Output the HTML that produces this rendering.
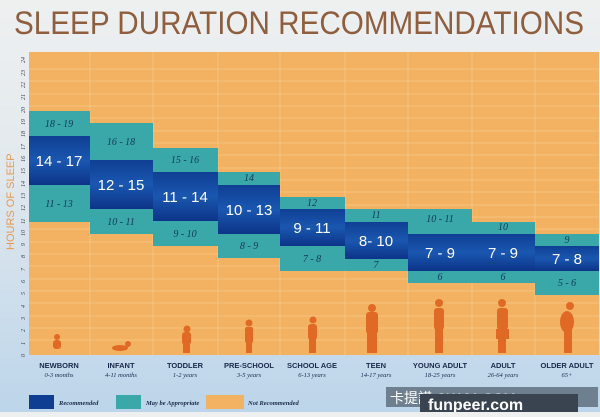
<!DOCTYPE html>
<html><head><meta charset="utf-8"><style>
html,body{margin:0;padding:0;}
body{width:600px;height:412px;overflow:hidden;background:linear-gradient(#eef0f0 0%,#e2e9ee 40%,#bcd5ea 100%);font-family:"Liberation Sans",sans-serif;}
</style></head><body>
<svg width="600" height="412" viewBox="0 0 600 412" xmlns="http://www.w3.org/2000/svg" font-family="Liberation Sans, sans-serif">
<text x="14" y="34" font-size="32" fill="#8e5e3e" textLength="570" lengthAdjust="spacingAndGlyphs">SLEEP DURATION RECOMMENDATIONS</text>
<rect x="29" y="52" width="570" height="303" fill="#f2b262"/>
<g stroke="#f7c98a" stroke-width="0.7">
<line x1="29" x2="599" y1="69" y2="69"/><line x1="29" x2="599" y1="81" y2="81"/><line x1="29" x2="599" y1="94" y2="94"/><line x1="29" x2="599" y1="106" y2="106"/><line x1="29" x2="599" y1="118" y2="118"/><line x1="29" x2="599" y1="131" y2="131"/><line x1="29" x2="599" y1="143" y2="143"/><line x1="29" x2="599" y1="155" y2="155"/><line x1="29" x2="599" y1="168" y2="168"/><line x1="29" x2="599" y1="180" y2="180"/><line x1="29" x2="599" y1="192" y2="192"/><line x1="29" x2="599" y1="205" y2="205"/><line x1="29" x2="599" y1="217" y2="217"/><line x1="29" x2="599" y1="229" y2="229"/><line x1="29" x2="599" y1="242" y2="242"/><line x1="29" x2="599" y1="254" y2="254"/><line x1="29" x2="599" y1="266" y2="266"/><line x1="29" x2="599" y1="279" y2="279"/><line x1="29" x2="599" y1="291" y2="291"/><line x1="29" x2="599" y1="303" y2="303"/><line x1="29" x2="599" y1="316" y2="316"/><line x1="29" x2="599" y1="328" y2="328"/><line x1="29" x2="599" y1="340" y2="340"/>
<line y1="52" y2="355" x1="90" x2="90"/><line y1="52" y2="355" x1="153" x2="153"/><line y1="52" y2="355" x1="218" x2="218"/><line y1="52" y2="355" x1="280" x2="280"/><line y1="52" y2="355" x1="345" x2="345"/><line y1="52" y2="355" x1="408" x2="408"/><line y1="52" y2="355" x1="472" x2="472"/><line y1="52" y2="355" x1="535" x2="535"/>
</g>
<defs><linearGradient id="db" x1="0" y1="0" x2="0" y2="1"><stop offset="0" stop-color="#0f3f94"/><stop offset="0.5" stop-color="#1a57b0"/><stop offset="1" stop-color="#0c3488"/></linearGradient></defs>
<g fill="#3aa7a9">
<rect x="29" y="111" width="61" height="111"/>
<rect x="90" y="123" width="63" height="111"/>
<rect x="153" y="148" width="65" height="98"/>
<rect x="218" y="172" width="62" height="86"/>
<rect x="280" y="197" width="65" height="74"/>
<rect x="345" y="209" width="63" height="62"/>
<rect x="408" y="209" width="64" height="74"/>
<rect x="472" y="222" width="63" height="61"/>
<rect x="535" y="234" width="64" height="61"/>
</g>
<g fill="url(#db)">
<rect x="29" y="136" width="61" height="49"/>
<rect x="90" y="160" width="63" height="49"/>
<rect x="153" y="172" width="65" height="49"/>
<rect x="218" y="185" width="62" height="49"/>
<rect x="280" y="209" width="65" height="37"/>
<rect x="345" y="222" width="63" height="37"/>
<rect x="408" y="234" width="64" height="37"/>
<rect x="472" y="234" width="63" height="37"/>
<rect x="535" y="246" width="64" height="25"/>
</g>
<g fill="#fff" font-size="15" text-anchor="middle">
<text x="59" y="166">14 - 17</text><text x="121" y="190">12 - 15</text><text x="185" y="202">11 - 14</text><text x="249" y="215">10 - 13</text><text x="312" y="233">9 - 11</text><text x="376" y="246">8- 10</text><text x="440" y="258">7 - 9</text><text x="503" y="258">7 - 9</text><text x="567" y="264">7 - 8</text>
</g>
<g fill="#113a5a" font-size="10" font-style="italic" font-family="Liberation Serif, serif" text-anchor="middle">
<text x="59" y="127">18 - 19</text><text x="59" y="207">11 - 13</text>
<text x="121" y="145">16 - 18</text><text x="121" y="225">10 - 11</text>
<text x="185" y="163">15 - 16</text><text x="185" y="237">9 - 10</text>
<text x="249" y="181">14</text><text x="249" y="249">8 - 9</text>
<text x="312" y="206">12</text><text x="312" y="262">7 - 8</text>
<text x="376" y="218">11</text><text x="376" y="268">7</text>
<text x="440" y="222">10 - 11</text><text x="440" y="280">6</text>
<text x="503" y="230">10</text><text x="503" y="280">6</text>
<text x="567" y="243">9</text><text x="567" y="286">5 - 6</text>
</g>
<g fill="#3a3a4a" font-size="6" font-style="italic" font-family="Liberation Serif, serif">
<text transform="translate(25,357) rotate(-90)">0</text><text transform="translate(25,345) rotate(-90)">1</text><text transform="translate(25,332) rotate(-90)">2</text><text transform="translate(25,320) rotate(-90)">3</text><text transform="translate(25,308) rotate(-90)">4</text><text transform="translate(25,295) rotate(-90)">5</text><text transform="translate(25,283) rotate(-90)">6</text><text transform="translate(25,271) rotate(-90)">7</text><text transform="translate(25,258) rotate(-90)">8</text><text transform="translate(25,246) rotate(-90)">9</text><text transform="translate(25,236) rotate(-90)">10</text><text transform="translate(25,224) rotate(-90)">11</text><text transform="translate(25,211) rotate(-90)">12</text><text transform="translate(25,199) rotate(-90)">13</text><text transform="translate(25,187) rotate(-90)">14</text><text transform="translate(25,174) rotate(-90)">15</text><text transform="translate(25,162) rotate(-90)">16</text><text transform="translate(25,150) rotate(-90)">17</text><text transform="translate(25,137) rotate(-90)">18</text><text transform="translate(25,125) rotate(-90)">19</text><text transform="translate(25,113) rotate(-90)">20</text><text transform="translate(25,100) rotate(-90)">21</text><text transform="translate(25,88) rotate(-90)">22</text><text transform="translate(25,76) rotate(-90)">23</text><text transform="translate(25,63) rotate(-90)">24</text>
</g>
<text transform="translate(14,250) rotate(-90)" font-size="11" fill="#e69a50">HOURS OF SLEEP</text>
<g fill="#e06a25">
<circle cx="57" cy="337" r="3"/><rect x="53" y="340" width="8" height="9" rx="3"/>
<circle cx="128" cy="344" r="3"/><ellipse cx="120" cy="348" rx="8" ry="3"/>
<circle cx="187" cy="329" r="3.5"/><rect x="182" y="332" width="9" height="13" rx="3"/><rect x="183" y="344" width="7" height="9"/>
<circle cx="249" cy="323" r="3.5"/><rect x="245" y="327" width="8" height="16" rx="2"/><rect x="246" y="342" width="6" height="11"/>
<circle cx="313" cy="320" r="3.5"/><rect x="308" y="324" width="9" height="16" rx="3"/><rect x="309" y="339" width="7" height="14"/>
<circle cx="372" cy="308" r="4"/><rect x="366" y="312" width="12" height="22" rx="3"/><rect x="367" y="333" width="10" height="20"/>
<circle cx="439" cy="303" r="4"/><rect x="434" y="308" width="10" height="22" rx="3"/><rect x="435" y="329" width="8" height="24"/>
<circle cx="502" cy="303" r="4"/><rect x="497" y="308" width="11" height="22" rx="3"/><rect x="496" y="329" width="13" height="10"/><rect x="498" y="339" width="8" height="14"/>
<circle cx="570" cy="306" r="4"/><ellipse cx="567" cy="322" rx="7" ry="11"/><rect x="564" y="330" width="8" height="23"/>
</g>
<g font-size="7.5" font-weight="bold" fill="#1a2a4a" text-anchor="middle">
<text x="59" y="368">NEWBORN</text><text x="121" y="368">INFANT</text><text x="185" y="368">TODDLER</text><text x="249" y="368">PRE-SCHOOL</text><text x="312" y="368">SCHOOL AGE</text><text x="376" y="368">TEEN</text><text x="440" y="368">YOUNG ADULT</text><text x="503" y="368">ADULT</text><text x="567" y="368">OLDER ADULT</text>
</g>
<g font-size="6.5" font-style="italic" fill="#1a2a4a" font-family="Liberation Serif, serif" text-anchor="middle">
<text x="59" y="377">0-3 months</text><text x="121" y="377">4-11 months</text><text x="185" y="377">1-2 years</text><text x="249" y="377">3-5 years</text><text x="312" y="377">6-13 years</text><text x="376" y="377">14-17 years</text><text x="440" y="377">18-25 years</text><text x="503" y="377">26-64 years</text><text x="567" y="377">65+</text>
</g>
<rect x="29" y="395" width="25" height="14" fill="#0f3d92"/>
<rect x="116" y="395" width="25" height="14" fill="#3aa7a9"/>
<rect x="206" y="395" width="38" height="14" fill="#f2b262"/>
<g font-size="6.5" font-style="italic" font-weight="bold" fill="#1a2a4a" font-family="Liberation Serif, serif">
<text x="59" y="405">Recommended</text><text x="146" y="405">May be Appropriate</text><text x="248" y="405">Not Recommended</text>
</g>
<rect x="386" y="387" width="212" height="20" fill="#5a6a78" opacity="0.8"/>
<text x="390" y="403" font-size="14" fill="#fff" font-family="Liberation Sans, Noto Sans CJK SC, sans-serif">卡提諾 CK101.COM</text>
<rect x="420" y="394" width="158" height="18" fill="#3a4450"/>
<text x="428" y="410" font-size="16" font-weight="bold" fill="#fff">funpeer.com</text>
</svg>
</body></html>
